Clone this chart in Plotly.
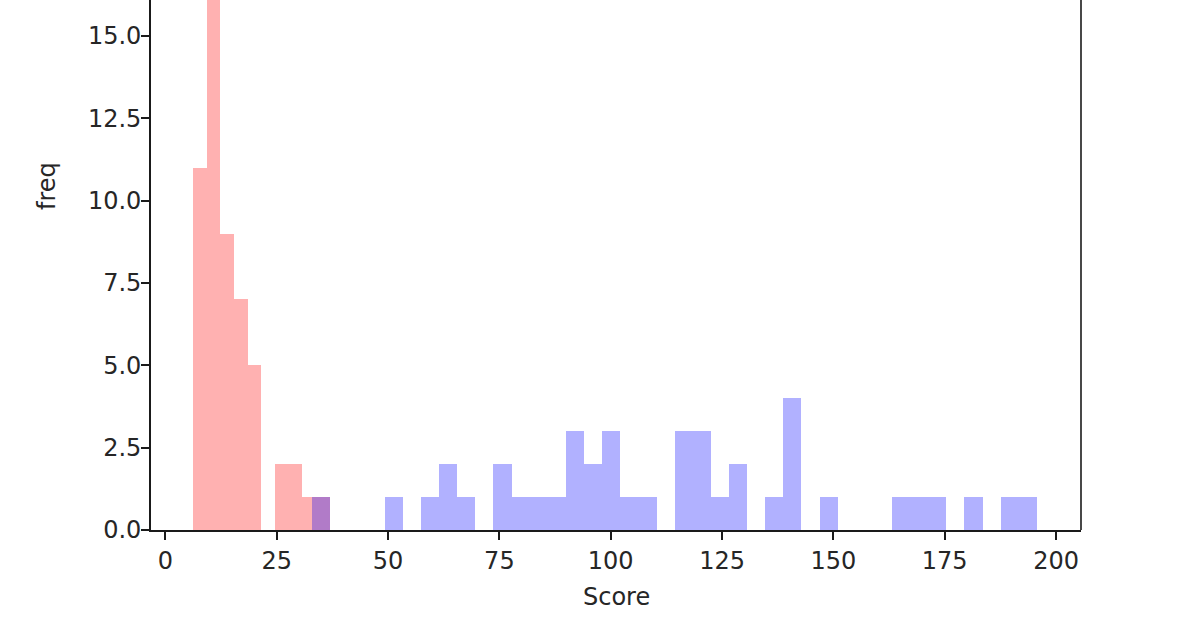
import numpy as np
import plotly.graph_objects as go

# ---- data ----
red_counts = [11, 20, 9, 7, 5, 0, 2, 2, 1, 1]
red_min, red_max = 6.24, 36.9

blue_counts = [1, 0, 0, 0, 1, 0, 1, 2, 1, 0,
               2, 1, 1, 1, 3, 2, 3, 1, 1, 0,
               3, 3, 1, 2, 0, 1, 4, 0, 1, 0,
               0, 0, 1, 1, 1, 0, 1, 0, 1, 1]
blue_min, blue_max = 33.0, 195.7

x_ticks = [0, 25, 50, 75, 100, 125, 150, 175, 200]
y_ticks = [0.0, 2.5, 5.0, 7.5, 10.0, 12.5, 15.0]


def bins(vmin, vmax, counts):
    n = len(counts)
    edges = np.linspace(vmin, vmax, n + 1)
    centers = (edges[:-1] + edges[1:]) / 2
    width = (vmax - vmin) / n
    return centers, width


rc, rw = bins(red_min, red_max, red_counts)
bc, bw = bins(blue_min, blue_max, blue_counts)

FONT = "DejaVu Sans"
TXT = "#262626"
FS = 24
LINE = "#1a1a1a"

fig = go.Figure()
fig.add_trace(go.Bar(x=rc, y=red_counts, width=rw, marker=dict(color="red", line=dict(width=0)),
                     opacity=0.3, showlegend=False))
fig.add_trace(go.Bar(x=bc, y=blue_counts, width=bw, marker=dict(color="blue", line=dict(width=0)),
                     opacity=0.3, showlegend=False))

W, H = 1200, 628
L, R, T, B = 151, 119, 0, 98

fig.update_layout(
    width=W, height=H,
    margin=dict(l=L, r=R, t=T, b=B, pad=0),
    barmode="overlay", bargap=0,
    plot_bgcolor="white", paper_bgcolor="white",
    font=dict(family=FONT, size=FS, color=TXT),
    xaxis=dict(range=[-3.23, 205.6], tickvals=x_ticks, ticktext=[str(v) for v in x_ticks],
               showgrid=False, zeroline=False, showline=True, linecolor=LINE, linewidth=1.6,
               ticks="outside", ticklen=8, tickwidth=1.5, tickcolor=LINE,
               tickfont=dict(family=FONT, size=FS, color=TXT)),
    yaxis=dict(range=[0, 16.09], tickvals=y_ticks, ticktext=[f"{v:.1f}" for v in y_ticks],
               showgrid=False, zeroline=False, showline=True, linecolor=LINE, linewidth=1.6,
               ticks="outside", ticklen=8, tickwidth=1.5, tickcolor=LINE,
               ticklabelstandoff=-5,
               tickfont=dict(family=FONT, size=FS, color=TXT)),
    shapes=[dict(type="line", xref="paper", yref="paper", x0=1, x1=1, y0=0, y1=1,
                 line=dict(color=LINE, width=1.6))],
    annotations=[
        dict(text="Score", xref="paper", yref="paper", x=0.5, y=(530 - 597) / 530,
             xanchor="center", yanchor="middle", showarrow=False,
             font=dict(family=FONT, size=FS, color=TXT)),
        dict(text="freq", xref="paper", yref="paper", x=(47 - 151) / 930, y=(530 - 186) / 530,
             xanchor="center", yanchor="middle", textangle=-90, showarrow=False,
             font=dict(family=FONT, size=FS, color=TXT)),
    ],
)

fig.write_html("out.html")
